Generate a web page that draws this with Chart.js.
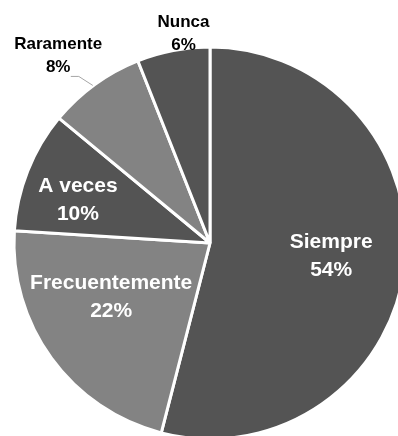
<!DOCTYPE html>
<html>
<head>
<meta charset="utf-8">
<script src="https://cdn.jsdelivr.net/npm/chart.js@4.4.1/dist/chart.umd.min.js"></script>
<style>
  html, body { margin: 0; padding: 0; background: #fff; overflow: hidden; }
  #wrap { width: 398px; height: 436px; overflow: hidden; position: relative; }
  #pie { position: absolute; left: 0; top: 0; }
</style>
</head>
<body>
<div id="wrap"><canvas id="pie" width="420" height="486"></canvas></div>
<script>
const labels = ['Siempre', 'Frecuentemente', 'A veces', 'Raramente', 'Nunca'];
const values = [54, 22, 10, 8, 6];
const sliceColors = ['#545454', '#838383', '#545454', '#838383', '#545454'];

// where each label sits: fraction of the radius and angle shift (deg) from the slice middle
const labelPlace = [
    { r: 0.622, shift: -0.9, inside: true },
    { r: 0.576, shift: 7.1, inside: true },
    { r: 0.708, shift: -3.7, inside: true },
    { r: 1.228, shift: -3.1, inside: false, leader: true },
    { r: 1.077, shift: 3.6, inside: false },
];

const FONT = '"Liberation Sans", Arial, sans-serif';

const sliceLabels = {
    id: 'sliceLabels',
    afterDatasetsDraw(chart) {
        const ctx = chart.ctx;
        const meta = chart.getDatasetMeta(0);
        const total = values.reduce((a, b) => a + b, 0);
        ctx.save();
        ctx.textAlign = 'center';
        ctx.textBaseline = 'middle';
        meta.data.forEach((arc, i) => {
            const p = labelPlace[i];
            const mid = (arc.startAngle + arc.endAngle) / 2;
            const a = mid + p.shift * Math.PI / 180;
            const x = arc.x + Math.cos(a) * arc.outerRadius * p.r;
            const y = arc.y + Math.sin(a) * arc.outerRadius * p.r;
            const size = p.inside ? 21 : 17;
            const gap = Math.round(size * 1.35);
            const pct = Math.round(values[i] / total * 100) + '%';

            if (p.leader) {
                const ex = arc.x + Math.cos(mid) * arc.outerRadius;
                const ey = arc.y + Math.sin(mid) * arc.outerRadius;
                ctx.strokeStyle = '#a6a6a6';
                ctx.lineWidth = 1;
                ctx.beginPath();
                ctx.moveTo(ex - 2, ey + 1);
                ctx.lineTo(ex - 16, ey - 8);
                ctx.lineTo(ex - 24, ey - 8);
                ctx.stroke();
            }

            ctx.fillStyle = p.inside ? '#ffffff' : '#000000';
            ctx.font = 'bold ' + size + 'px ' + FONT;
            ctx.fillText(labels[i], x, y - gap / 2);
            ctx.fillText(pct, x, y + gap / 2);
        });
        ctx.restore();
    }
};

new Chart(document.getElementById('pie').getContext('2d'), {
    type: 'pie',
    data: {
        labels: labels,
        datasets: [{
            data: values,
            backgroundColor: sliceColors,
            borderColor: '#ffffff',
            borderWidth: 3,
            hoverOffset: 0,
        }],
    },
    options: {
        responsive: false,
        animation: false,
        layout: { padding: 12.5 },
        plugins: {
            legend: { display: false },
            tooltip: { enabled: false },
        },
    },
    plugins: [sliceLabels],
});
</script>
</body>
</html>
